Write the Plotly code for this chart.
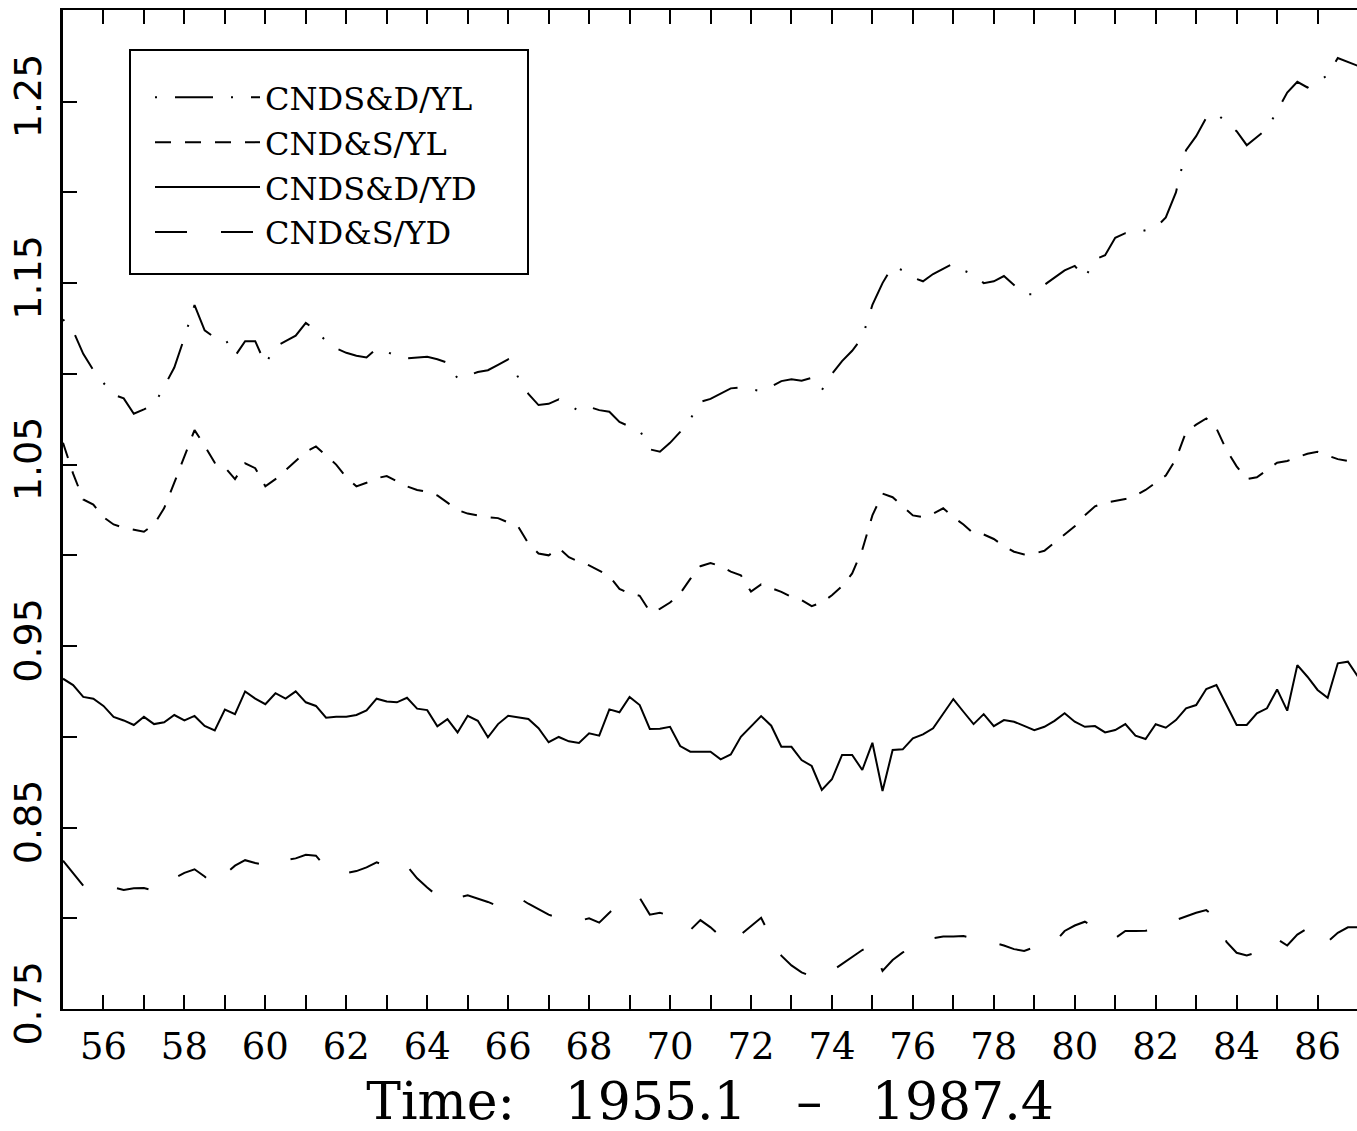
import plotly.graph_objects as go

# Quarterly data, 1955.1 onward
start_year = 1955
series_names = ["CNDS&D/YL", "CND&S/YL", "CNDS&D/YD", "CND&S/YD"]

cnds_d_yl = [
    1.130, 1.1237, 1.111, 1.102, 1.095, 1.0885, 1.0865, 1.078, 1.0804, 1.083,
    1.093, 1.1035, 1.120, 1.1379, 1.124, 1.1199, 1.1195, 1.1098, 1.118, 1.118,
    1.1054, 1.115, 1.118, 1.121, 1.1281, 1.124, 1.118, 1.114, 1.1116, 1.110,
    1.109, 1.114, 1.112, 1.110, 1.1085, 1.1088, 1.1094, 1.108, 1.1061, 1.0975,
    1.099, 1.101, 1.102, 1.105, 1.108, 1.098, 1.089, 1.0828, 1.0835, 1.086,
    1.083, 1.0796, 1.0818, 1.080, 1.0791, 1.0735, 1.071, 1.069, 1.0584, 1.0571,
    1.062, 1.068, 1.075, 1.0846, 1.0862, 1.089, 1.092, 1.0925, 1.0915, 1.0905,
    1.093, 1.096, 1.097, 1.0962, 1.0978, 1.091, 1.100, 1.107, 1.1127, 1.120,
    1.138, 1.150, 1.1594, 1.157, 1.153, 1.151, 1.155, 1.158, 1.1608, 1.157,
    1.1548, 1.150, 1.151, 1.1539, 1.149, 1.1439, 1.1439, 1.149, 1.153, 1.157,
    1.1595, 1.1529, 1.163, 1.1654, 1.175, 1.1775, 1.1777, 1.179, 1.1805, 1.1862,
    1.200, 1.2233, 1.231, 1.2411, 1.2435, 1.2385, 1.2337, 1.226, 1.2303, 1.235,
    1.2448, 1.255, 1.2609, 1.2578, 1.261, 1.2646, 1.274, 1.2719, 1.2697,
]

cnd_s_yl = [
    1.062, 1.045, 1.0308, 1.028, 1.021, 1.017, 1.0152, 1.014, 1.013, 1.017,
    1.026, 1.040, 1.055, 1.069, 1.0604, 1.051, 1.0485, 1.042, 1.0507, 1.048,
    1.038, 1.042, 1.047, 1.052, 1.057, 1.060, 1.055, 1.050, 1.043, 1.038,
    1.040, 1.0425, 1.0437, 1.041, 1.038, 1.036, 1.035, 1.033, 1.029, 1.025,
    1.023, 1.022, 1.021, 1.0205, 1.018, 1.0157, 1.0065, 1.001, 1.000, 1.004,
    0.999, 0.9965, 0.9945, 0.9915, 0.9886, 0.9815, 0.979, 0.9777, 0.969, 0.9705,
    0.974, 0.979, 0.987, 0.994, 0.9958, 0.994, 0.991, 0.989, 0.980, 0.984,
    0.982, 0.9799, 0.977, 0.9753, 0.972, 0.974, 0.978, 0.983, 0.990, 1.003,
    1.022, 1.034, 1.032, 1.027, 1.022, 1.021, 1.023, 1.0259, 1.021, 1.017,
    1.012, 1.0115, 1.009, 1.005, 1.002, 1.0005, 1.001, 1.0025, 1.007, 1.012,
    1.016, 1.022, 1.027, 1.029, 1.030, 1.031, 1.033, 1.036, 1.040, 1.044,
    1.053, 1.068, 1.072, 1.0754, 1.070, 1.058, 1.049, 1.042, 1.043, 1.047,
    1.051, 1.052, 1.054, 1.056, 1.057, 1.055, 1.053, 1.052, 1.052,
]

cnds_d_yd = [
    0.932, 0.9285, 0.922, 0.921, 0.917, 0.911, 0.909, 0.9065, 0.911, 0.907,
    0.908, 0.912, 0.909, 0.9115, 0.906, 0.9035, 0.915, 0.9125, 0.925, 0.921,
    0.918, 0.924, 0.921, 0.925, 0.919, 0.917, 0.9105, 0.911, 0.911, 0.912,
    0.9145, 0.921, 0.9195, 0.919, 0.9215, 0.9155, 0.9147, 0.9058, 0.9097, 0.9024,
    0.9116, 0.9088, 0.8997, 0.907, 0.9116, 0.9107, 0.9098, 0.9047, 0.897, 0.8999,
    0.8975, 0.8966, 0.9019, 0.9006, 0.9151, 0.9135, 0.922, 0.9175, 0.9043, 0.9044,
    0.9055, 0.8949, 0.8918, 0.8918, 0.8918, 0.8876, 0.8903, 0.900, 0.906, 0.9114,
    0.9061, 0.8945, 0.8945, 0.8872, 0.8839, 0.8707, 0.8766, 0.890, 0.890, 0.8817,
    0.8967, 0.8701, 0.8927, 0.8931, 0.8991, 0.9013, 0.9047, 0.9129, 0.9208, 0.9138,
    0.907, 0.9125, 0.9059, 0.9092, 0.9083, 0.906, 0.9037, 0.9055, 0.9088, 0.913,
    0.9083, 0.9055, 0.9059, 0.9024, 0.9037, 0.907, 0.9006, 0.8988, 0.9069, 0.905,
    0.9092, 0.9157, 0.9175, 0.9263, 0.9285, 0.9175, 0.9065, 0.9065, 0.9129, 0.9157,
    0.9261, 0.9144, 0.9395, 0.9331, 0.9258, 0.9215, 0.9405, 0.9414, 0.9331,
]

cnd_s_yd = [
    0.8317, 0.8248, 0.818, 0.818, 0.8175, 0.817, 0.8156, 0.8165, 0.8167, 0.8152,
    0.819, 0.822, 0.825, 0.827, 0.823, 0.818, 0.8242, 0.829, 0.832, 0.8305,
    0.8293, 0.833, 0.832, 0.833, 0.835, 0.8345, 0.8279, 0.8255, 0.8249, 0.826,
    0.828, 0.8308, 0.8285, 0.8266, 0.8288, 0.822, 0.817, 0.8123, 0.8141, 0.8113,
    0.8126, 0.811, 0.809, 0.8067, 0.8078, 0.8115, 0.808, 0.805, 0.802, 0.800,
    0.7988, 0.7985, 0.800, 0.7976, 0.803, 0.809, 0.810, 0.8113, 0.802, 0.803,
    0.8015, 0.797, 0.7935, 0.799, 0.795, 0.790, 0.7865, 0.791, 0.796, 0.8003,
    0.789, 0.7794, 0.774, 0.7702, 0.768, 0.768, 0.771, 0.775, 0.7785, 0.7825,
    0.785, 0.771, 0.777, 0.7812, 0.783, 0.7847, 0.789, 0.790, 0.790, 0.7902,
    0.789, 0.788, 0.7865, 0.785, 0.783, 0.782, 0.784, 0.7865, 0.7867, 0.793,
    0.796, 0.7981, 0.795, 0.7915, 0.789, 0.793, 0.793, 0.7931, 0.794, 0.796,
    0.799, 0.801, 0.803, 0.8045, 0.800, 0.787, 0.781, 0.7795, 0.781, 0.7829,
    0.7886, 0.785, 0.791, 0.7945, 0.7867, 0.787, 0.792, 0.795, 0.795,
]

x_tick_years = list(range(1956, 1988))
x_tick_labels = [f"{y % 100:02d}" if y % 2 == 0 else "" for y in x_tick_years]
y_tick_vals = [0.75, 0.80, 0.85, 0.90, 0.95, 1.00, 1.05, 1.10, 1.15, 1.20, 1.25, 1.30]
y_tick_labels = ["0.75", "", "0.85", "", "0.95", "", "1.05", "", "1.15", "", "1.25", ""]

time = [start_year + i / 4 for i in range(len(cnds_d_yd))]

dashes = ["2px,18px,38px,18px", "16px,14px", "solid", "32px,34px"]
values = [cnds_d_yl, cnd_s_yl, cnds_d_yd, cnd_s_yd]

fig = go.Figure()
for k, (name, vals, dash) in enumerate(zip(series_names, values, dashes)):
    fig.add_trace(go.Scatter(
        x=time, y=vals, name=name, mode="lines",
        line=dict(color="black", width=2, dash=dash),
        legendgroup=f"g{k}",
    ))

axis_common = dict(
    ticks="inside", ticklen=14, tickwidth=2, tickcolor="black",
    showgrid=False, zeroline=False,
)

# plot-area pixel geometry (for placing the legend frame)
L, R, T, B = 63, 1357, 10, 1009
def px_x(p):
    return (p - L) / (R - L)
def px_y(p):
    return (B - p) / (B - T)

fig.update_layout(
    width=1357, height=1131,
    margin=dict(l=L, r=1357 - R, t=T, b=1131 - B),
    paper_bgcolor="white", plot_bgcolor="white",
    xaxis=dict(
        range=[1955, 1955 + (R - L) / 40.47],
        tickvals=x_tick_years, ticktext=x_tick_labels,
        showline=True, linewidth=2, linecolor="black", mirror="ticks",
        tickfont=dict(family="DejaVu Serif", size=37, color="black"),
        ticklabelstandoff=4,
        title=dict(
            text="Time:\u00a0\u00a0\u00a01955.1\u00a0\u00a0\u00a0\u2013\u00a0\u00a0\u00a01987.4",
            font=dict(family="DejaVu Serif", size=52, color="black"),
            standoff=16,
        ),
        **axis_common,
    ),
    yaxis=dict(
        range=[0.75, 1.3005],
        tickvals=y_tick_vals, ticktext=y_tick_labels, tickangle=-90,
        showline=True, linewidth=2.5, linecolor="black",
        tickfont=dict(family="DejaVu Sans", size=38, color="black"),
        ticklabelstandoff=4,
        **axis_common,
    ),
    yaxis2=dict(
        overlaying="y", side="right", range=[0.75, 1.3005],
        tickvals=y_tick_vals, showticklabels=False, showline=False,
        **axis_common,
    ),
    showlegend=True,
    legend=dict(
        x=px_x(150), y=px_y(70), xanchor="left", yanchor="top",
        bgcolor="rgba(0,0,0,0)", borderwidth=0,
        font=dict(family="DejaVu Serif", size=32, color="black"),
        itemwidth=105, traceorder="grouped", tracegroupgap=0.3,
    ),
    shapes=[dict(
        type="rect", xref="paper", yref="paper",
        x0=px_x(130), x1=px_x(528), y0=px_y(274), y1=px_y(50),
        line=dict(color="black", width=2), fillcolor="rgba(0,0,0,0)", layer="above",
    )],
)

fig.write_html(
    "out.html",
    config={"displayModeBar": False},
    post_script="document.body.style.margin='0';",
)
